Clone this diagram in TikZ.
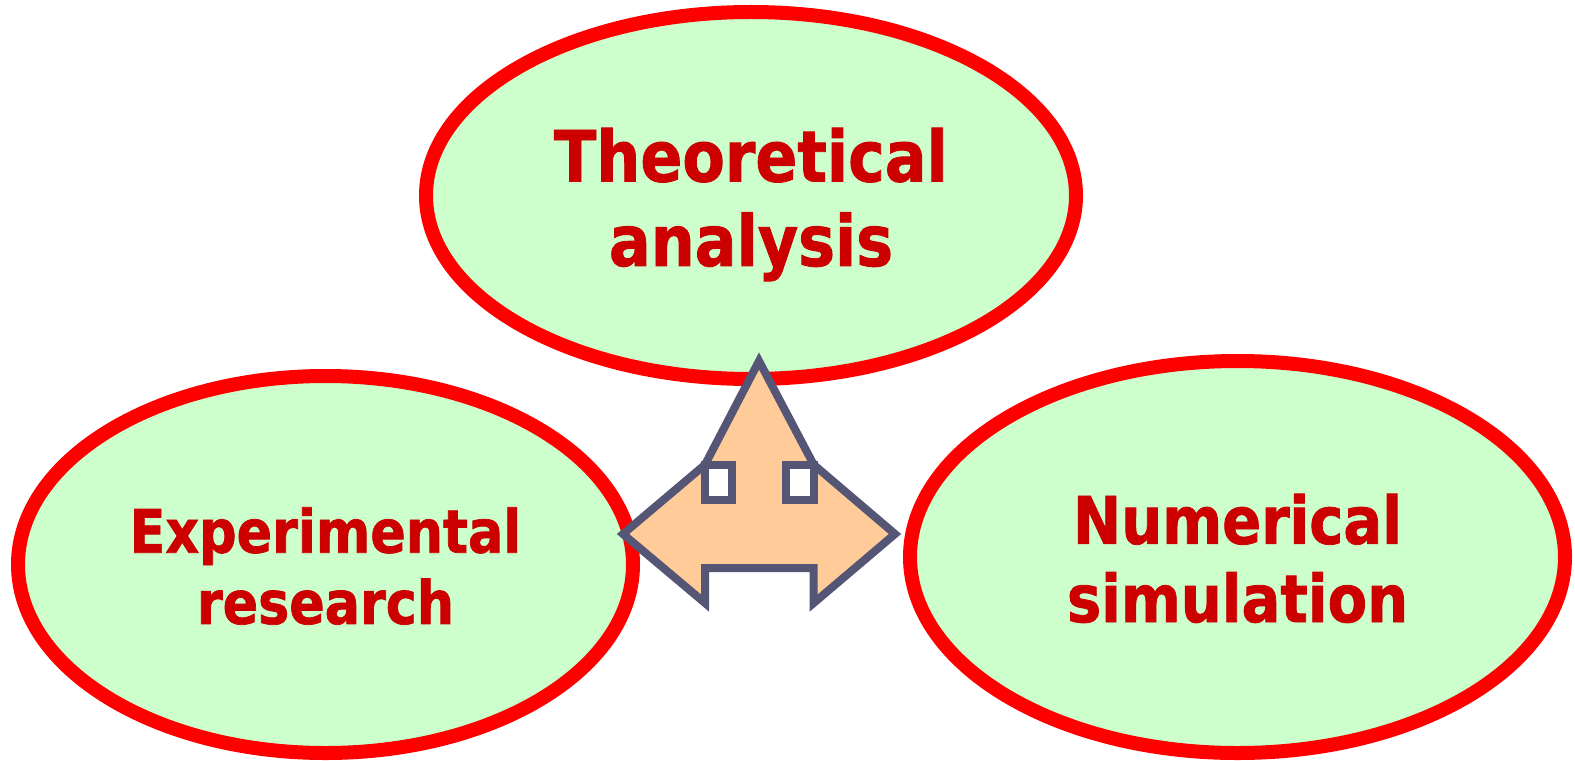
\documentclass[tikz,border=0pt]{standalone}
\usepackage{fontspec}
\setmainfont{DejaVu Sans}
\newfontfamily\labelfont[FakeStretch=0.875,BoldFeatures={FakeStretch=0.875,FakeBold=1.2}]{DejaVu Sans}
\usetikzlibrary{shapes.geometric}
\definecolor{ringred}{RGB}{255,0,0}
\definecolor{fillgreen}{RGB}{204,255,204}
\definecolor{labelred}{RGB}{204,0,0}
\definecolor{arrowedge}{RGB}{85,85,117}
\definecolor{arrowfill}{RGB}{255,204,153}
\tikzset{
  px/.style={x=1bp,y=-1bp},
  bubble/.style={ellipse,draw=ringred,line width=14bp,fill=fillgreen,inner sep=0pt,align=center,text=labelred},
  arrowbody/.style={draw=arrowedge,line width=8bp,fill=arrowfill,line join=miter,miter limit=10},
  windowbox/.style={draw=arrowedge,line width=8bp,fill=white}
}
\begin{document}
\begin{tikzpicture}[px]
\useasboundingbox (0,0) rectangle (1575,761);
\node[bubble,minimum width=650bp,minimum height=367bp,font=\fontsize{71pt}{84.7pt}\selectfont\labelfont\bfseries] (theory) at (751,195.5) {\rule{0pt}{72pt}Theoretical\\analysis};
\node[bubble,minimum width=615bp,minimum height=377bp,font=\fontsize{60pt}{71.5pt}\selectfont\labelfont\bfseries] (experiment) at (325.5,564.5) {\rule{0pt}{48.6pt}Experimental\\research};
\node[bubble,minimum width=655bp,minimum height=392bp,font=\fontsize{66pt}{78.5pt}\selectfont\labelfont\bfseries] (numeric) at (1237.5,557) {\rule{0pt}{53pt}Numerical\\simulation};
\draw[arrowbody] (759,361) -- (813.7,464.7) -- (895,534) -- (813.7,603) -- (813.7,568) -- (705,568) -- (705,603) -- (623,534) -- (705,464.7) -- cycle;
\draw[windowbox] (705,464.7) rectangle (732,499.7);
\draw[windowbox] (786,464.7) rectangle (813.7,499.7);
\end{tikzpicture}
\end{document}
